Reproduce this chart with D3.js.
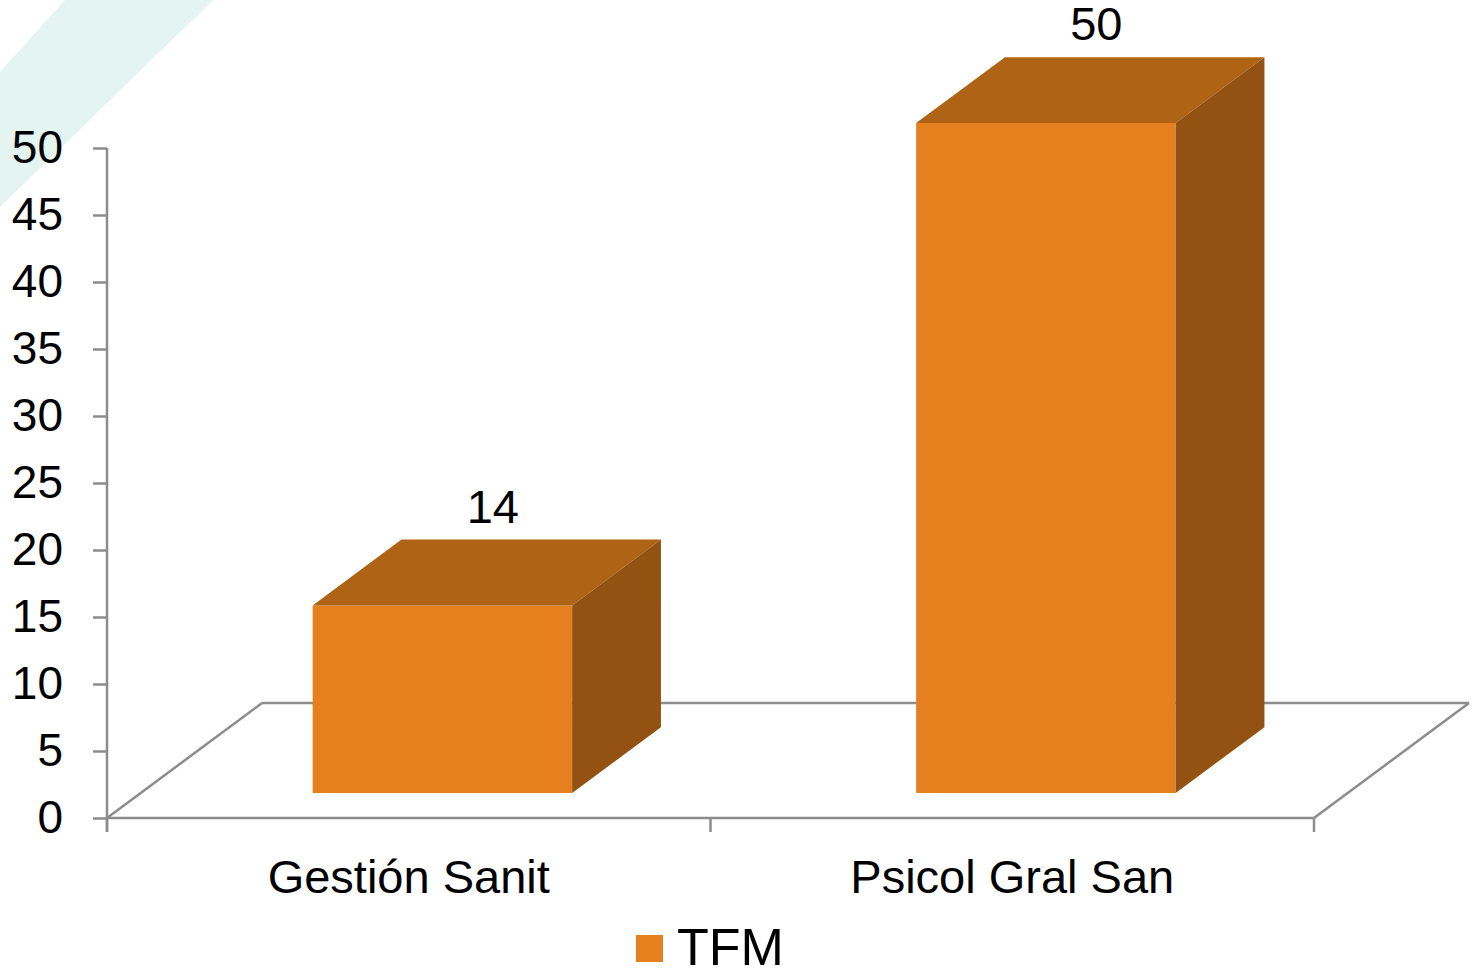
<!DOCTYPE html>
<html>
<head>
<meta charset="utf-8">
<script src="https://cdn.jsdelivr.net/npm/d3@7"></script>
<style>
  html, body { margin: 0; padding: 0; background: #fff; }
  svg { display: block; }
  text { font-family: "Liberation Sans", Arial, Helvetica, sans-serif; fill: #000; }
</style>
</head>
<body>
<svg id="chart" width="1473" height="969"></svg>
<script>
const categories = ["Gestión Sanit", "Psicol Gral San"];
const values = [14, 50];
const seriesName = "TFM";
const yTicks = [0, 5, 10, 15, 20, 25, 30, 35, 40, 45, 50];

const W = 1473, H = 969;
const svg = d3.select("#chart");

const colors = { front: "#E6801E", top: "#AF6314", side: "#935212", axis: "#8C8C8C", stripe: "#E4F4F0" };

// decorative stripe top-left
svg.append("polygon")
  .attr("points", [[65,0],[213,0],[0,207],[0,72]].map(p => p.join(",")).join(" "))
  .attr("fill", colors.stripe);

const x = d3.scaleBand().domain(categories).range([107, 1314]).paddingInner(0).paddingOuter(0);
const y = d3.scaleLinear().domain([0, 50]).range([818, 148]);

const depth = { dx: 155, dy: -115 };   // floor depth
const f1 = 0.217, f2 = 0.79;            // bar front / back depth fractions
const barFrac = 0.43;

const g = svg.append("g");

// floor outline
const x0 = x.range()[0], x1 = x.range()[1], yb = y(0);
const floor = [
  [[x0, yb], [x0 + depth.dx, yb + depth.dy]],
  [[x0 + depth.dx, yb + depth.dy], [x1 + depth.dx, yb + depth.dy]],
  [[x1 + depth.dx, yb + depth.dy], [x1, yb]],
  [[x0, yb], [x1, yb]]
];
g.selectAll("line.floor").data(floor).enter().append("line")
  .attr("class", "floor")
  .attr("x1", d => d[0][0]).attr("y1", d => d[0][1])
  .attr("x2", d => d[1][0]).attr("y2", d => d[1][1])
  .attr("stroke", colors.axis).attr("stroke-width", 2.5);

// y axis
const yAxis = d3.axisLeft(y).tickValues(yTicks).tickSize(14).tickPadding(30).tickSizeOuter(0);
const ya = svg.append("g").attr("transform", `translate(${x0},0)`).call(yAxis);
ya.select(".domain").attr("stroke", colors.axis).attr("stroke-width", 2.5)
  .attr("d", `M0,${y(50)}V${yb + 14}`);
ya.selectAll(".tick line").attr("stroke", colors.axis).attr("stroke-width", 2.5);
ya.selectAll(".tick text").attr("font-size", 46).attr("font-family", '"Liberation Sans", Arial, sans-serif').attr("fill", "#000");

// x axis ticks at band boundaries
const bounds = categories.map(c => x(c)).concat([x1]);
svg.selectAll("line.xtick").data(bounds).enter().append("line")
  .attr("class", "xtick")
  .attr("x1", d => d).attr("x2", d => d)
  .attr("y1", yb).attr("y2", yb + 14)
  .attr("stroke", colors.axis).attr("stroke-width", 2.5);

// bars
const bw = x.bandwidth() * barFrac;
const bars = categories.map((c, i) => {
  const left = x(c) + (x.bandwidth() - bw) / 2;
  const fx = f1 * depth.dx, fy = f1 * depth.dy;
  const bx = (f2 - f1) * depth.dx, by = (f2 - f1) * depth.dy;
  const L = left + fx, R = left + bw + fx;
  const T = y(values[i]) + fy, B = y(0) + fy;
  return { c, v: values[i], L, R, T, B, bx, by };
});

const bg = svg.append("g");
bars.forEach(b => {
  // front
  bg.append("polygon")
    .attr("points", [[b.L,b.T],[b.R,b.T],[b.R,b.B],[b.L,b.B]].map(p => p.join(",")).join(" "))
    .attr("fill", colors.front);
  // top
  bg.append("polygon")
    .attr("points", [[b.L,b.T],[b.L+b.bx,b.T+b.by],[b.R+b.bx,b.T+b.by],[b.R,b.T]].map(p => p.join(",")).join(" "))
    .attr("fill", colors.top);
  // side
  bg.append("polygon")
    .attr("points", [[b.R,b.T],[b.R+b.bx,b.T+b.by],[b.R+b.bx,b.B+b.by],[b.R,b.B]].map(p => p.join(",")).join(" "))
    .attr("fill", colors.side);
  // label
  bg.append("text")
    .attr("x", (b.L + b.R + b.bx) / 2 + 6)
    .attr("y", b.T + b.by - 17)
    .attr("text-anchor", "middle")
    .attr("font-size", 47)
    .text(b.v);
});

// category labels
svg.selectAll("text.cat").data(categories).enter().append("text")
  .attr("class", "cat")
  .attr("x", d => x(d) + x.bandwidth() / 2)
  .attr("y", 893)
  .attr("text-anchor", "middle")
  .attr("font-size", 47)
  .text(d => d);

// legend
const lg = svg.append("g").attr("transform", "translate(636,935)");
lg.append("rect").attr("width", 27).attr("height", 27).attr("fill", colors.front);
lg.append("text").attr("x", 41).attr("y", 30).attr("font-size", 52).text(seriesName);
</script>
</body>
</html>
